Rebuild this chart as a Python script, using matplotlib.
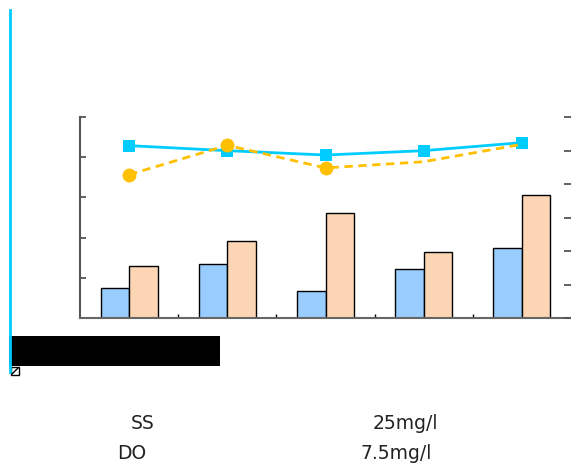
import numpy as np
import matplotlib
matplotlib.use("Agg")
import matplotlib.pyplot as plt
from matplotlib.patches import Rectangle
from matplotlib.lines import Line2D

plt.rcParams['font.family'] = ['DejaVu Sans']

# data (arbitrary units, no tick labels shown)
categories = ["1", "2", "3", "4", "5"]
bar_blue = [7.4, 13.4, 6.7, 12.1, 17.5]
bar_peach = [13.0, 19.2, 26.1, 16.5, 30.6]
line_cyan = [10.29, 9.99, 9.73, 9.99, 10.47]
line_yellow = [8.56, 10.31, 8.96, 9.33, 10.37]
label_rows = ["SS", "DO"]
label_vals = ["25mg/l", "7.5mg/l"]

fig = plt.figure(figsize=(5.71, 4.69), dpi=100)
ax = fig.add_axes([80 / 571, 1 - 318 / 469, 1 - 80 / 571, 201 / 469])

x = np.arange(len(categories))
w = 0.29
ax.bar(x - w / 2, bar_blue, width=w, color="#99CCFF", edgecolor="black", linewidth=1)
ax.bar(x + w / 2, bar_peach, width=w, color="#FCD5B4", edgecolor="black", linewidth=1)
ax.set_xlim(-0.5, len(categories) - 0.5)
ax.set_ylim(0, 50)
ax.set_yticks(np.arange(0, 51, 10))
ax.set_xticks(x[:-1] + 0.5)
ax.tick_params(axis="x", direction="in", length=3, width=1, labelbottom=False, color="black")
ax.tick_params(axis="y", direction="in", length=4, width=1.3, labelleft=False, color="#555555")
ax.spines["top"].set_visible(False)
ax.spines["right"].set_visible(False)
ax.spines["left"].set_color("#555555")
ax.spines["left"].set_linewidth(1.5)
ax.spines["bottom"].set_color("#666666")
ax.spines["bottom"].set_linewidth(1.5)

ax2 = ax.twinx()
ax2.set_ylim(0, 12)
ax2.set_yticks(np.arange(0, 13, 2))
ax2.tick_params(axis="y", direction="in", length=5, width=1.3, labelright=False, color="#555555")
for s in ax2.spines.values():
    s.set_visible(False)
ax2.plot(x, line_cyan, color="#00CCFF", linewidth=2, marker="s", markersize=9,
         markeredgewidth=0, zorder=3)
ax2.plot(x, line_yellow, color="#FFC000", linewidth=2, linestyle=(0, (3, 2)),
         marker="o", markersize=10, markeredgewidth=0, markevery=[0, 1, 2], zorder=4)

# decorations outside the plot
fig.add_artist(Line2D([9.5 / 571, 9.5 / 571], [1 - 10 / 469, 1 - 372 / 469],
                      color="#00CCFF", linewidth=2))
fig.add_artist(Rectangle((9 / 571, 1 - 366 / 469), 211 / 571, 30 / 469,
                         facecolor="black", edgecolor="none"))
fig.add_artist(Rectangle((11 / 571, 1 - 375 / 469), 8 / 571, 8 / 469,
                         facecolor="white", edgecolor="black", linewidth=1))
fig.add_artist(Line2D([12 / 571, 18 / 571], [1 - 374 / 469, 1 - 368 / 469],
                      color="black", linewidth=1))

fs = 13.5
fig.text(143 / 571, 1 - 423 / 469, label_rows[0], ha="center", va="center", fontsize=fs, color="#222222")
fig.text(438 / 571, 1 - 423 / 469, label_vals[0], ha="right", va="center", fontsize=fs, color="#222222")
fig.text(132 / 571, 1 - 453 / 469, label_rows[1], ha="center", va="center", fontsize=fs, color="#222222")
fig.text(432 / 571, 1 - 453 / 469, label_vals[1], ha="right", va="center", fontsize=fs, color="#222222")

fig.savefig("out.png", dpi=100)
